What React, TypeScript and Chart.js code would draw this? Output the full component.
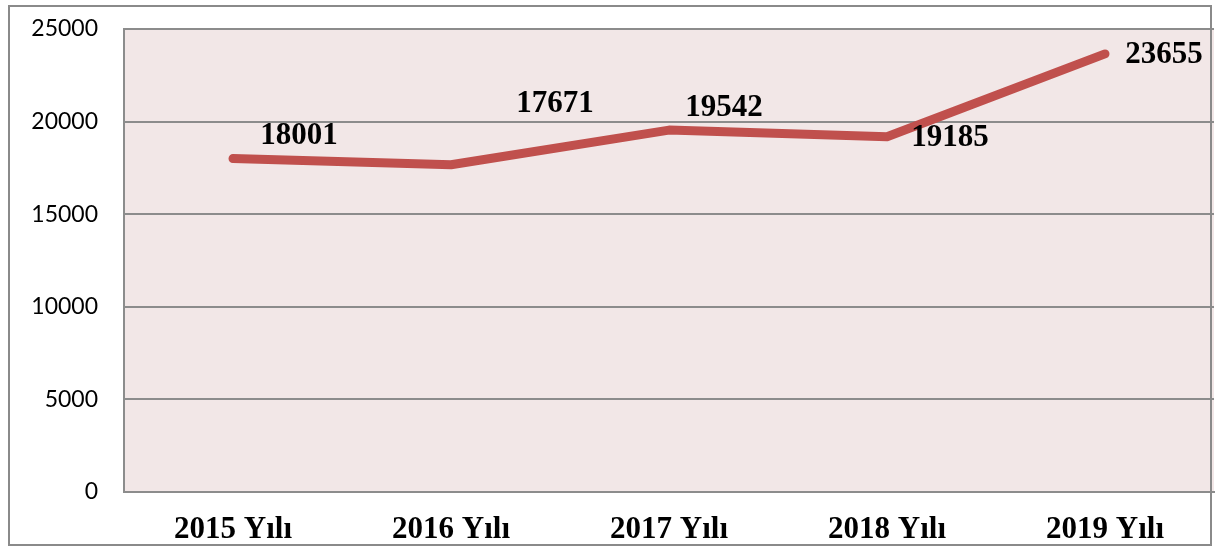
import React, { useEffect, useRef } from "react";
import { Chart, registerables } from "chart.js";

Chart.register(...registerables);

const categories = ["2015 Yılı", "2016 Yılı", "2017 Yılı", "2018 Yılı", "2019 Yılı"];
const values = [18001, 17671, 19542, 19185, 23655];
const yTicks = [0, 5000, 10000, 15000, 20000, 25000];
// label offsets from each point (pixels), as placed in the original
const labelOffsets: [number, number][] = [
  [66, -23],
  [104, -61],
  [55, -22],
  [63, 1],
  [59, 1],
];

const LINE_COLOR = "#C0504D";
const GRID_COLOR = "#8c8c8c";
const PLOT_BG = "#F2E7E7";

export default function App() {
  const ref = useRef<HTMLCanvasElement | null>(null);

  useEffect(() => {
    const canvas = ref.current;
    if (!canvas) return;

    const framePlugin = {
      id: "frame",
      beforeDraw(chart: any) {
        const { ctx, chartArea } = chart;
        ctx.save();
        ctx.fillStyle = "#ffffff";
        ctx.fillRect(0, 0, chart.width, chart.height);
        ctx.fillStyle = PLOT_BG;
        ctx.fillRect(chartArea.left, chartArea.top, chartArea.right - chartArea.left, chartArea.bottom - chartArea.top);
        ctx.restore();
      },
      afterDraw(chart: any) {
        const { ctx } = chart;
        ctx.save();
        ctx.strokeStyle = "#8a8a8a";
        ctx.lineWidth = 2;
        ctx.strokeRect(9, 6, 1202, 539);
        ctx.restore();
      },
    };

    const labelPlugin = {
      id: "valueLabels",
      afterDatasetsDraw(chart: any) {
        const { ctx } = chart;
        const meta = chart.getDatasetMeta(0);
        ctx.save();
        ctx.font = "bold 31px 'Liberation Serif', 'Times New Roman', serif";
        ctx.fillStyle = "#000000";
        ctx.textAlign = "center";
        ctx.textBaseline = "middle";
        meta.data.forEach((pt: any, i: number) => {
          const [dx, dy] = labelOffsets[i];
          ctx.fillText(String(values[i]), pt.x + dx, pt.y + dy);
        });
        ctx.restore();
      },
    };

    const chart = new Chart(canvas, {
      type: "line",
      data: {
        labels: categories,
        datasets: [
          {
            data: values,
            borderColor: LINE_COLOR,
            backgroundColor: LINE_COLOR,
            borderWidth: 9,
            borderCapStyle: "round",
            borderJoinStyle: "round",
            pointRadius: 0,
            tension: 0,
            fill: false,
          },
        ],
      },
      options: {
        responsive: false,
        animation: false,
        devicePixelRatio: 1,
        layout: { padding: { left: 0, top: 29, right: 1, bottom: 0 } },
        plugins: {
          legend: { display: false },
          tooltip: { enabled: false },
        },
        scales: {
          x: {
            type: "category",
            offset: true,
            grid: { display: false, drawTicks: false },
            border: { display: true, color: GRID_COLOR, width: 2 },
            ticks: {
              color: "#000000",
              padding: 19,
              maxRotation: 0,
              autoSkip: false,
              font: { family: "'Liberation Serif', 'Times New Roman', serif", size: 31, weight: "bold" },
            },
            afterFit(scale: any) {
              scale.height = 55;
              scale.paddingLeft = 0;
              scale.paddingRight = 0;
            },
          },
          y: {
            min: 0,
            max: 25000,
            afterBuildTicks(scale: any) {
              scale.ticks = yTicks.map((v) => ({ value: v }));
            },
            grid: { color: GRID_COLOR, lineWidth: 2, drawTicks: false },
            border: { display: true, color: GRID_COLOR, width: 2 },
            ticks: {
              color: "#000000",
              padding: 26,
              font: { family: "Lato, 'Open Sans', sans-serif", size: 23 },
              callback: (v: any) => String(v),
            },
            afterFit(scale: any) {
              scale.width = 124;
              scale.paddingTop = 0;
              scale.paddingBottom = 0;
            },
          },
        },
      },
      plugins: [framePlugin, labelPlugin],
    } as any);

    return () => chart.destroy();
  }, []);

  return (
    <div style={{ position: "absolute", left: 0, top: 0, width: 1215, height: 547 }}>
      <canvas ref={ref} width={1215} height={547} style={{ display: "block" }} />
    </div>
  );
}
